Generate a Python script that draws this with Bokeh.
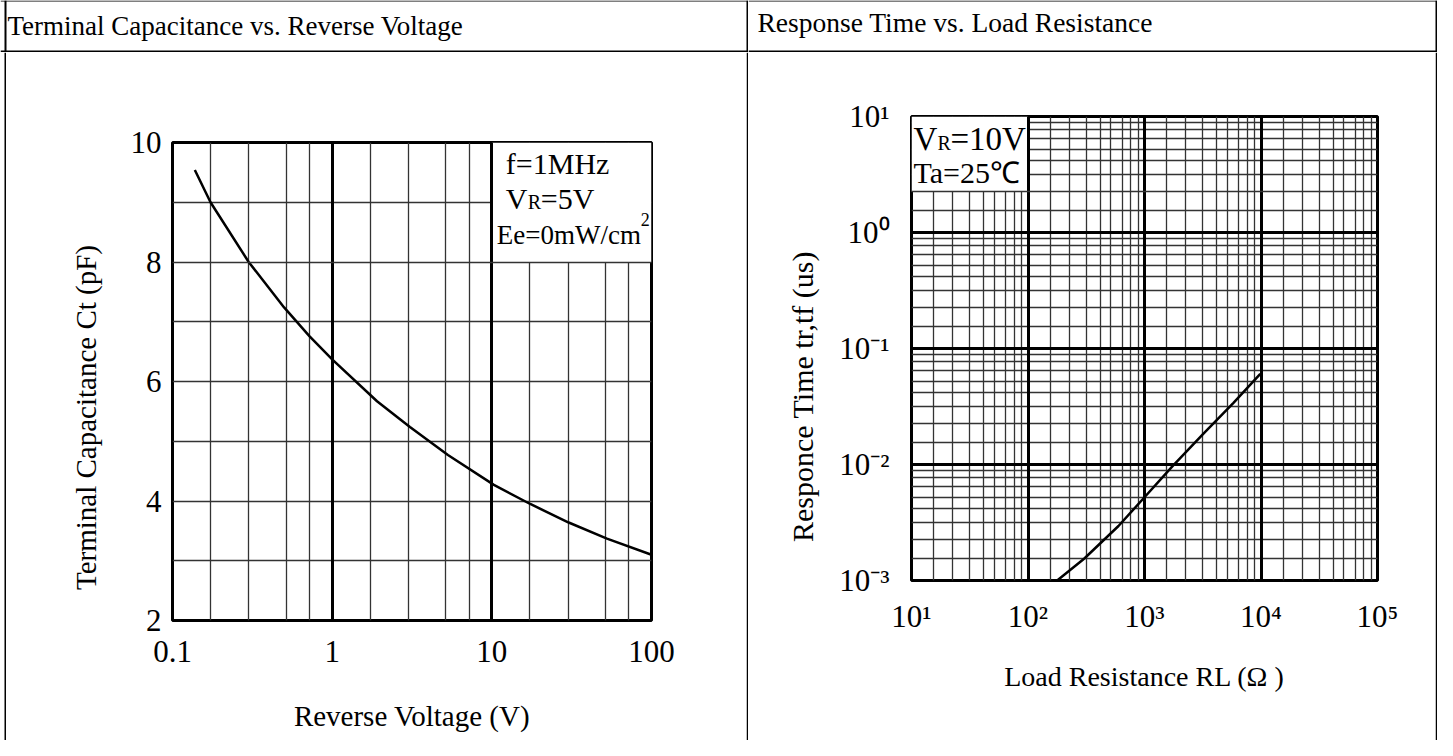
import math
from bokeh.plotting import figure
from bokeh.layouts import column, row
from bokeh.models import FixedTicker, Grid, CustomJSTickFormatter, Label, Range1d
from bokeh.core.properties import value
from bokeh.embed import file_html
from bokeh.resources import INLINE

FONT = "Liberation Serif"

# ---------------- data ----------------
titles = ["Terminal Capacitance vs. Reverse Voltage", "Response Time vs. Load Resistance"]
y_titles = ["Terminal Capacitance Ct (pF)", "Responce Time tr,tf (us)"]
x_titles = ["Reverse Voltage (V)", "Load Resistance RL (\u03a9 )"]

reverse_voltage_v = [0.138, 0.173, 0.3, 0.5, 0.72, 1.0, 1.91, 2.66, 3.07, 5.31, 10.3, 17.4, 30.3, 52.6, 100]
capacitance_pf = [9.54, 9.0, 8.0, 7.24, 6.76, 6.37, 5.67, 5.37, 5.24, 4.77, 4.27, 3.95, 3.64, 3.37, 3.10]

load_resistance_ohm = [178, 303, 598, 1000, 1726, 3163, 5805, 9860]
response_time_us = [1.0e-3, 1.54e-3, 2.95e-3, 5.22e-3, 9.6e-3, 1.82e-2, 3.4e-2, 6.05e-2]

cap_x_ticks = [0.1, 1, 10, 100]
cap_y_ticks = [2, 4, 6, 8, 10]
rt_x_ticks = [10, 100, 1000, 10000, 100000]
rt_y_ticks = [1e-3, 1e-2, 1e-1, 1, 10]

# grid line multipliers inside one decade, as drawn on the sheet
cap_minor_mult = [1.73, 3.0, 5.16, 7.2]
rt_minor_mult = [1.55, 2.26, 3.16, 4.15, 5.15, 6.43, 7.65, 8.85]

ALL = []

# ---------------- helpers ----------------
def bare(width, height):
    p = figure(width=width, height=height, x_range=Range1d(0, width), y_range=Range1d(0, height),
               min_border=0, toolbar_location=None, output_backend="svg",
               x_axis_location=None, y_axis_location=None, outline_line_color=None)
    p.grid.visible = False
    ALL.append(p)
    return p


def header(width, title, tx, ty, size, segs):
    p = bare(width, 52)
    p.text(x=[tx], y=[ty], text=[title], text_font=value(FONT), text_font_size=value(size),
           text_baseline="middle", text_align="left", text_color="black")
    for x0, y0, x1, y1, w in segs:
        p.segment(x0=[x0], y0=[y0], x1=[x1], y1=[y1], line_color="black", line_width=w)
    return p


def strip(width, height, band):
    p = bare(width, height)
    p.quad(left=[band[0]], right=[band[1]], bottom=[0], top=[height],
           fill_color="black", line_color=None)
    return p


def y_title(width, height, text, cx, cy, size):
    p = bare(width, height)
    p.text(x=[cx], y=[cy], text=[text], angle=math.pi / 2, text_font=value(FONT),
           text_font_size=value(size), text_baseline="middle", text_align="center",
           text_color="black")
    return p


def style_axis(ax, label, label_size, standoff, label_standoff, fmt):
    ax.axis_label = label
    ax.axis_label_text_font = FONT
    ax.axis_label_text_font_size = label_size
    ax.axis_label_text_font_style = "normal"
    ax.axis_label_text_color = "black"
    ax.axis_label_standoff = label_standoff
    ax.major_label_text_font = FONT
    ax.major_label_text_font_size = "31px"
    ax.major_label_text_color = "black"
    ax.major_label_standoff = standoff
    ax.axis_line_color = None
    ax.major_tick_line_color = None
    ax.minor_tick_line_color = None
    ax.major_tick_out = 0
    ax.major_tick_in = 0
    ax.minor_tick_out = 0
    ax.minor_tick_in = 0
    ax.formatter = fmt


def add_grid(p, dim, ticks, width, color, level):
    g = Grid(dimension=dim, ticker=FixedTicker(ticks=ticks), grid_line_color=color,
             grid_line_width=width, level=level)
    p.add_layout(g)


def note(p, x, y, dx, dy, text, size):
    p.add_layout(Label(x=x, y=y, x_offset=dx, y_offset=dy, text=text, text_font=FONT,
                       text_font_size=size, text_color="black", text_align="left",
                       text_baseline="middle"))


SUP_CODE = """
const s = {"-3": "\\u207b\\u00b3", "-2": "\\u207b\\u00b2", "-1": "\\u207b\\u00b9", "0": "\\u2070",
           "1": "\\u00b9", "2": "\\u00b2", "3": "\\u00b3", "4": "\\u2074", "5": "\\u2075"};
const e = Math.round(Math.log10(tick));
return "10" + s[String(e)];
"""
PLAIN_CODE = "return String(tick);"

MINOR = "#333333"

# ---------------- header row ----------------
h1 = header(748, titles[0], 7, 27, "27px",
            [(0, 51.5, 748, 51.5, 1), (0, 1, 748, 1, 2), (5, 0, 5, 52, 2), (747, 0, 747, 52, 2)])
h2 = header(689, titles[1], 9, 30, "27.5px",
            [(0, 51.5, 689, 51.5, 1), (0, 1, 689, 1, 2), (688, 0, 688, 52, 2)])

# ---------------- left chart ----------------
p1 = figure(width=640, height=688, x_axis_type="log", x_range=Range1d(0.1, 100),
            y_range=Range1d(2, 10), min_border_left=66, min_border_right=95,
            min_border_top=90, min_border_bottom=120, toolbar_location=None,
            output_backend="svg", outline_line_color="black", outline_line_width=3)
ALL.append(p1)
p1.grid.visible = False
p1.xaxis.ticker = FixedTicker(ticks=cap_x_ticks)
p1.yaxis.ticker = FixedTicker(ticks=cap_y_ticks)
style_axis(p1.xaxis[0], x_titles[0], "29px", 20, 35, CustomJSTickFormatter(code=PLAIN_CODE))
style_axis(p1.yaxis[0], "", "29px", 11, 20, CustomJSTickFormatter(code=PLAIN_CODE))

cap_minor_x = [d * m for d in cap_x_ticks[:-1] for m in cap_minor_mult]
add_grid(p1, 0, cap_minor_x, 1.3, MINOR, "underlay")
add_grid(p1, 1, [3, 4, 5, 6, 7, 9], 1.3, MINOR, "underlay")
p1.quad(left=[10], right=[100], bottom=[8], top=[10], fill_color="white", line_color=None)
add_grid(p1, 0, cap_x_ticks[1:-1], 3, "black", "annotation")
add_grid(p1, 1, [8], 1.3, MINOR, "annotation")
p1.line(reverse_voltage_v, capacitance_pf, line_color="black", line_width=2.5)

note(p1, 10, 10, 14, -21, "f=1MHz", "30px")
note(p1, 10, 10, 14, -56, "V", "30px")
note(p1, 10, 10, 36, -59, "R", "20px")
note(p1, 10, 10, 49, -56, "=5V", "30px")
note(p1, 10, 10, 5, -92, "Ee=0mW/cm", "27px")
note(p1, 10, 10, 149, -77, "2", "18px")

# ---------------- right chart ----------------
p2 = figure(width=607, height=688, x_axis_type="log", y_axis_type="log",
            x_range=Range1d(10, 1e5), y_range=Range1d(1e-3, 10),
            min_border_left=83, min_border_right=58, min_border_top=64, min_border_bottom=160,
            toolbar_location=None, output_backend="svg",
            outline_line_color="black", outline_line_width=3)
ALL.append(p2)
p2.grid.visible = False
p2.xaxis.ticker = FixedTicker(ticks=rt_x_ticks)
p2.yaxis.ticker = FixedTicker(ticks=rt_y_ticks)
style_axis(p2.xaxis[0], x_titles[1], "28px", 18, 24, CustomJSTickFormatter(code=SUP_CODE))
style_axis(p2.yaxis[0], "", "30px", 22, 16, CustomJSTickFormatter(code=SUP_CODE))

rt_minor_x = [d * m for d in rt_x_ticks[:-1] for m in rt_minor_mult]
rt_minor_y = [d * m for d in rt_y_ticks[:-1] for m in rt_minor_mult]
box_bottom = rt_y_ticks[-2] * rt_minor_mult[1]
add_grid(p2, 0, rt_minor_x, 1.3, MINOR, "underlay")
add_grid(p2, 1, [v for v in rt_minor_y if v != box_bottom], 1.3, MINOR, "underlay")
p2.quad(left=[10], right=[100], bottom=[box_bottom], top=[10], fill_color="white", line_color=None)
add_grid(p2, 0, rt_x_ticks[1:-1], 3, "black", "annotation")
add_grid(p2, 1, rt_y_ticks[1:-1], 3, "black", "annotation")
add_grid(p2, 1, [box_bottom], 1.3, MINOR, "annotation")
p2.line(load_resistance_ohm, response_time_us, line_color="black", line_width=2.5)

note(p2, 10, 10, 2, -22, "V", "33px")
note(p2, 10, 10, 26, -26, "R", "20px")
note(p2, 10, 10, 39, -22, "=10V", "33px")
note(p2, 10, 10, 2, -56, "Ta=25\u2103", "30px")

# ---------------- y-axis titles beside the charts ----------------
yt1 = y_title(100, 688, y_titles[0], 79, 323, "29px")
yt2 = y_title(80, 688, y_titles[1], 54, 344, "30px")

row2 = [strip(6, 688, (4, 6)), yt1, p1, strip(2, 688, (0, 2)), yt2, p2, strip(2, 688, (0, 2))]
row1 = [h1, h2]

for f in ALL:
    if "frame_align" in f.properties():
        f.frame_align = False

layout = column(row(*row1), row(*row2))

open("out.html", "w").write(file_html(layout, INLINE))
